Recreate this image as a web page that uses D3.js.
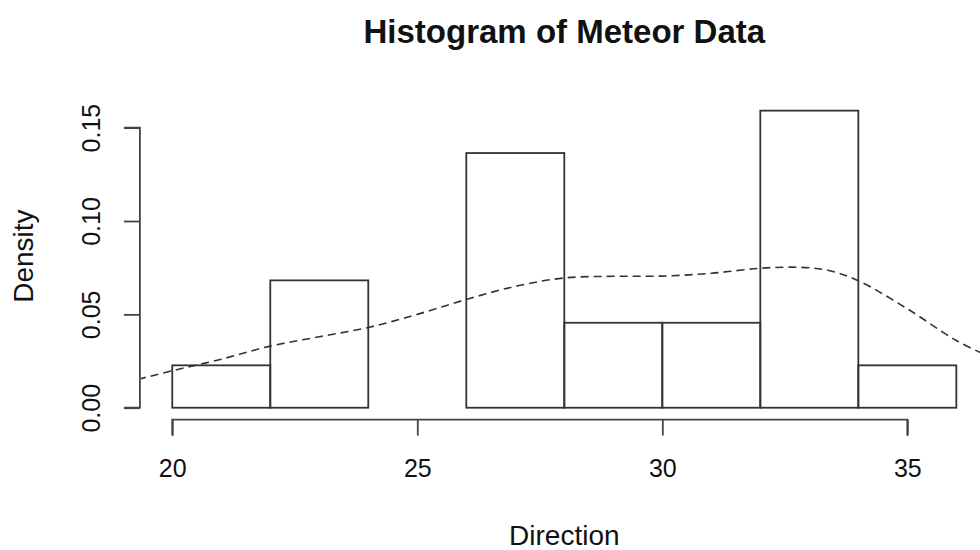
<!DOCTYPE html>
<html>
<head>
<meta charset="utf-8">
<script src="https://cdn.jsdelivr.net/npm/d3@7"></script>
<style>
  body { margin: 0; background: #fff; }
  text { font-family: "Liberation Sans", Arial, sans-serif; fill: #111; }
</style>
</head>
<body>
<div id="chart"></div>
<script>
// histogram bins (Direction) and densities
var binStarts = [20, 22, 24, 26, 28, 30, 32, 34];
var binWidth = 2;
var binDensity = [0.0227, 0.0682, 0, 0.1364, 0.0455, 0.0455, 0.1591, 0.0227];

// kernel density estimate
var kdeX = [19.3, 20, 21, 22, 23, 24, 25, 26, 27, 28, 29, 30, 31, 32, 32.8, 33.4, 34, 35, 36, 36.7];
var kdeY = [0.0152, 0.0198, 0.026, 0.033, 0.038, 0.043, 0.050, 0.058, 0.065, 0.0695, 0.0704, 0.0705, 0.072, 0.0747, 0.0752, 0.0735, 0.068, 0.053, 0.036, 0.027];

var xTicks = [20, 25, 30, 35];
var yTicks = [0, 0.05, 0.10, 0.15];

var svgWidth = 980;
var svgHeight = 550;

// plot region (R style, 4% padding round the data range)
var plot = { left: 140.9, right: 987.7, top: 98.7, bottom: 419.6 };

var svg = d3.select("#chart")
    .append("svg")
    .attr("width", svgWidth)
    .attr("height", svgHeight);

var xScale = d3.scaleLinear()
    .domain([19.36, 36.64])
    .range([plot.left, plot.right]);

var yScale = d3.scaleLinear()
    .domain([-0.00636, 0.1655])
    .range([plot.bottom, plot.top]);

svg.append("defs").append("clipPath")
    .attr("id", "plotclip")
    .append("rect")
    .attr("x", plot.left)
    .attr("y", plot.top)
    .attr("width", plot.right - plot.left)
    .attr("height", plot.bottom - plot.top);

// bars
svg.selectAll("rect.bar")
    .data(binStarts)
    .enter()
    .append("rect")
    .attr("class", "bar")
    .attr("x", d => xScale(d))
    .attr("y", (d, i) => yScale(binDensity[i]))
    .attr("width", d => xScale(d + binWidth) - xScale(d))
    .attr("height", (d, i) => yScale(0) - yScale(binDensity[i]))
    .attr("fill", "none")
    .attr("stroke", "#333")
    .attr("stroke-width", 1.8);

// density line
var line = d3.line()
    .x(d => xScale(d[0]))
    .y(d => yScale(d[1]))
    .curve(d3.curveCatmullRom);

svg.append("path")
    .datum(kdeX.map((x, i) => [x, kdeY[i]]))
    .attr("clip-path", "url(#plotclip)")
    .attr("d", line)
    .attr("fill", "none")
    .attr("stroke", "#333")
    .attr("stroke-width", 1.6)
    .attr("stroke-dasharray", "8,5");

// x axis
var bottomAxis = d3.axisBottom(xScale)
    .tickValues(xTicks)
    .tickSize(16)
    .tickPadding(24)
    .tickFormat(d3.format("d"));

var xg = svg.append("g")
    .attr("transform", `translate(0, ${plot.bottom})`)
    .call(bottomAxis);
xg.select(".domain")
    .attr("d", `M${xScale(20)},16V0H${xScale(35)}V16`);

// y axis
var leftAxis = d3.axisLeft(yScale)
    .tickValues(yTicks)
    .tickSize(16)
    .tickFormat(d3.format(".2f"));

var yg = svg.append("g")
    .attr("transform", `translate(${plot.left - 1}, 0)`)
    .call(leftAxis);
yg.select(".domain")
    .attr("d", `M-16,${yScale(0)}H0V${yScale(0.15)}H-16`);
yg.selectAll(".tick text")
    .attr("x", 0)
    .attr("y", 0)
    .attr("dy", 0)
    .attr("text-anchor", "middle")
    .attr("transform", "translate(-40,0) rotate(-90)");

svg.selectAll(".domain, .tick line")
    .attr("stroke", "#444")
    .attr("stroke-width", 1.8);
svg.selectAll(".tick text")
    .attr("font-size", "25px")
    .attr("font-family", "Liberation Sans, Arial, sans-serif")
    .attr("fill", "#111");

// titles
svg.append("text")
    .attr("x", (plot.left + plot.right) / 2)
    .attr("y", 43)
    .attr("text-anchor", "middle")
    .attr("font-size", "33px")
    .attr("font-weight", "bold")
    .text("Histogram of Meteor Data");

svg.append("text")
    .attr("x", (plot.left + plot.right) / 2)
    .attr("y", 545)
    .attr("text-anchor", "middle")
    .attr("font-size", "28px")
    .text("Direction");

svg.append("text")
    .attr("transform", `translate(33, ${(plot.top + plot.bottom) / 2 - 3}) rotate(-90)`)
    .attr("text-anchor", "middle")
    .attr("font-size", "28px")
    .text("Density");
</script>
</body>
</html>
